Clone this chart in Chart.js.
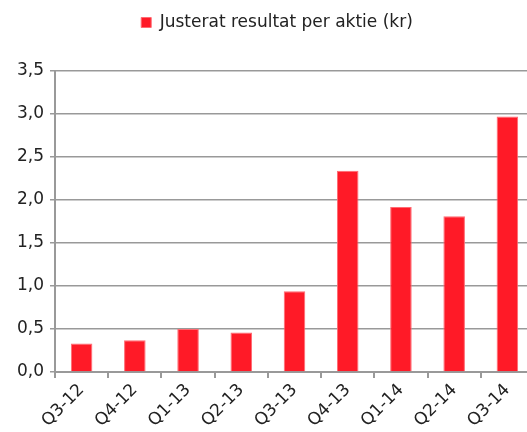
<!DOCTYPE html>
<html><head><meta charset="utf-8">
<script src="https://cdn.jsdelivr.net/npm/chart.js@4/dist/chart.umd.min.js"></script>
<style>html,body{margin:0;padding:0;overflow:hidden;background:#fff;width:527px;height:432px}
#wrap{width:534px;height:432px;position:relative}</style>
</head><body><div id="wrap"><canvas id="c"></canvas></div>
<script>
const categories = ["Q3-12","Q4-12","Q1-13","Q2-13","Q3-13","Q4-13","Q1-14","Q2-14","Q3-14"];
const seriesLabel = "Justerat resultat per aktie (kr)";
const values = [0.33,0.37,0.50,0.46,0.94,2.34,1.92,1.81,2.97];
const yTicks = [0,0.5,1,1.5,2,2.5,3,3.5];

const FONT = "'DejaVu Sans', sans-serif";
const legendMargin = {
  id: 'legendMargin',
  beforeInit(chart) {
    const fit = chart.legend.fit;
    chart.legend.fit = function () { fit.call(this); this.height += 30; };
  },
  afterUpdate(chart) {
    chart.legend.left += 10; chart.legend.right += 10;
  }
};
new Chart(document.getElementById('c'), {
  type: 'bar',
  data: { labels: categories, datasets: [{
    label: seriesLabel, data: values,
    backgroundColor: '#ff1a27', borderColor: '#ff6a72', borderWidth: 1,
    barPercentage: 0.405, categoryPercentage: 1.0
  }]},
  plugins: [legendMargin],
  options: {
    responsive: true, maintainAspectRatio: false, animation: false,
    layout: { padding: { top: 0, left: 0, right: 0, bottom: 0 } },
    plugins: {
      legend: { display: true, position: 'top',
        labels: { boxWidth: 10, boxHeight: 10, padding: 14, color: '#222',
          font: { family: FONT, size: 17 } } },
      tooltip: { enabled: false }
    },
    scales: {
      x: {
        grid: { display: true, drawOnChartArea: false, offset: true, color: '#999', lineWidth: 2, tickLength: 6 },
        border: { color: '#999', width: 2 },
        ticks: { color: '#222', maxRotation: 45, minRotation: 45, font: { family: FONT, size: 17 }, padding: 2 },
        afterFit: s => { s.height = 60; }
      },
      y: {
        min: 0, max: 3.5,
        afterBuildTicks: s => { s.ticks = yTicks.map(v => ({ value: v })); },
        grid: { color: '#999', lineWidth: 1.5, tickLength: 5 },
        border: { color: '#999', width: 2 },
        ticks: { color: '#222', padding: 6, font: { family: FONT, size: 17 },
          callback: v => v.toFixed(1).replace('.', ',') },
        afterFit: s => { s.width = 55; }
      }
    }
  }
});
</script></body></html>
